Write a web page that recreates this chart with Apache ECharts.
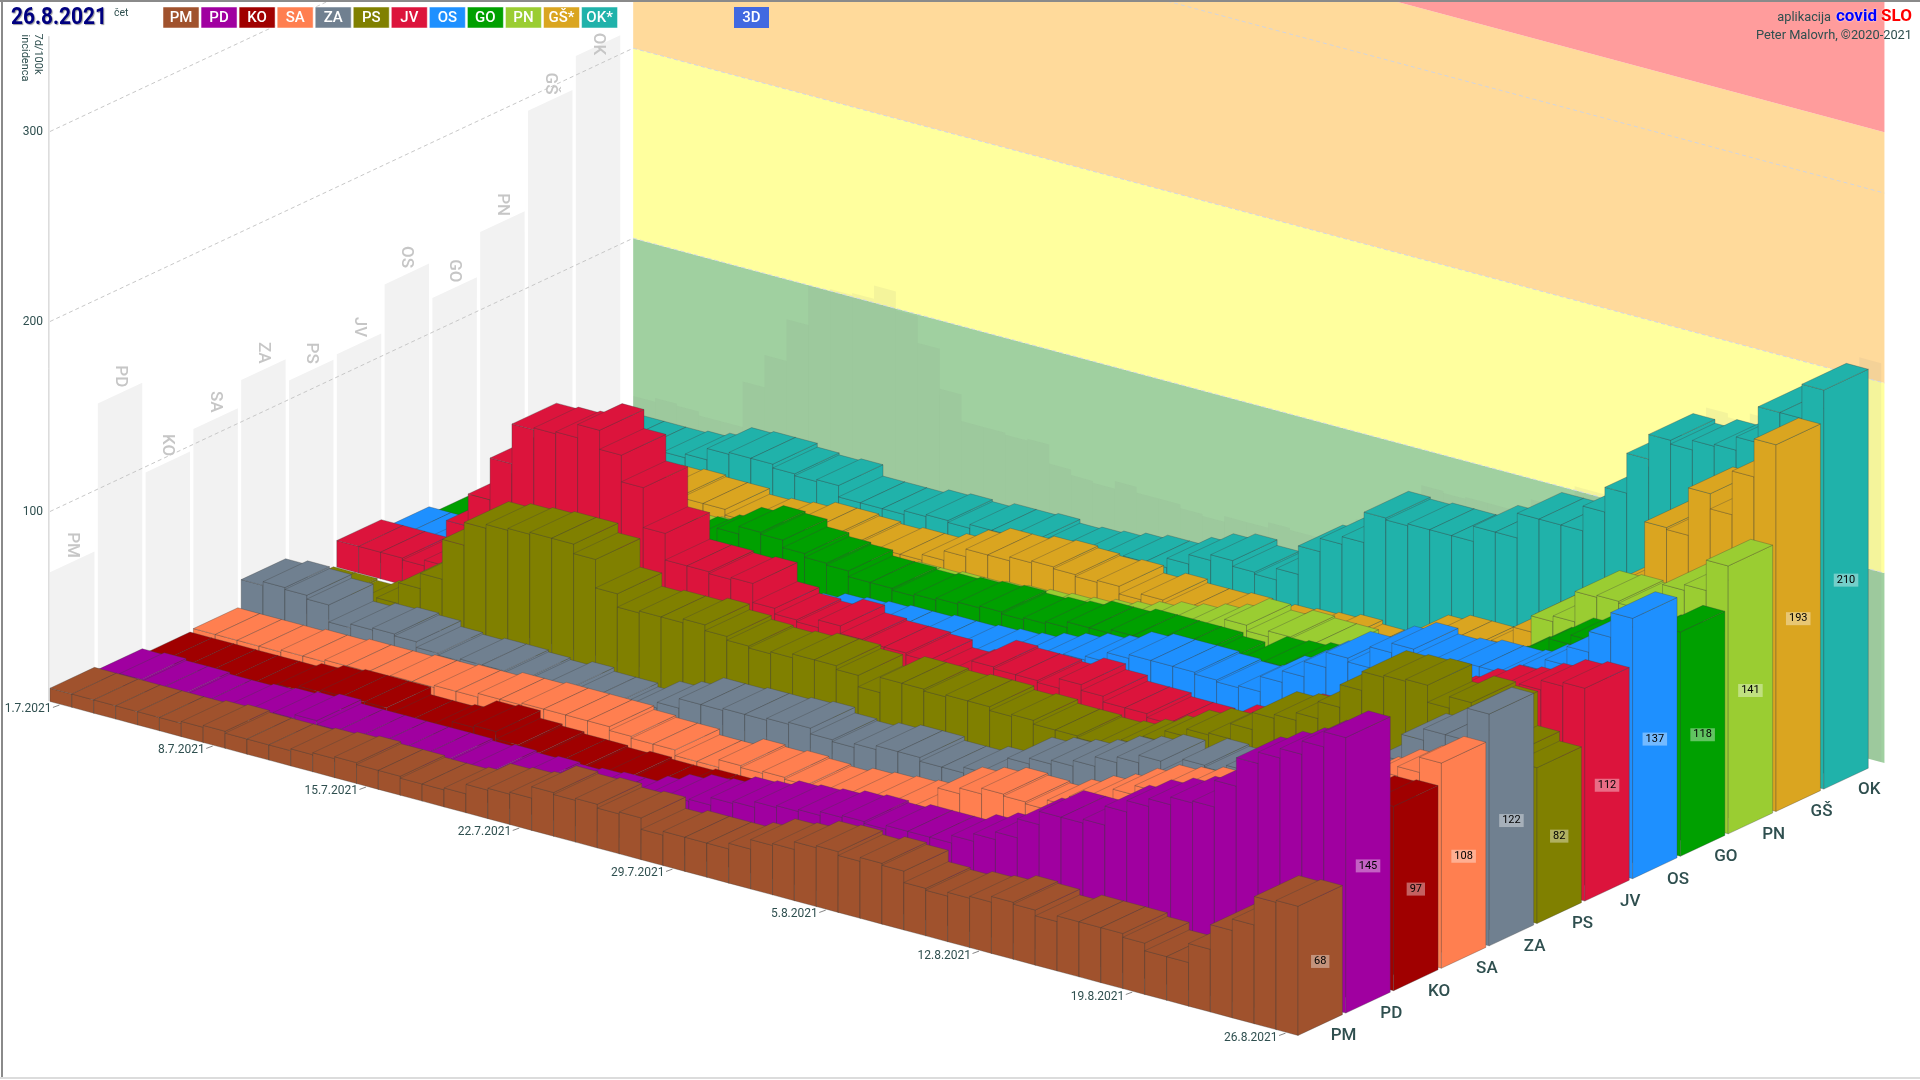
<!DOCTYPE html>
<html><head><meta charset="utf-8"><title>covidSLO</title>
<style>html,body{margin:0;padding:0;background:#fff}#c{width:1920px;height:1080px}</style>
<script src="https://cdn.jsdelivr.net/npm/echarts@6/dist/echarts.min.js"></script></head>
<body><div id="c"></div>
<script>
const regionNames=['PM','PD','KO','SA','ZA','PS','JV','OS','GO','PN','GŠ','OK'];
const regionColors=['#A0522D','#A000A0','#A00000','#FF7F50','#708090','#808000','#DC143C','#1E90FF','#00A000','#9ACD32','#DAA520','#20B2AA'];
const legendNames=['PM','PD','KO','SA','ZA','PS','JV','OS','GO','PN','GŠ*','OK*'];
const tickDays=[0,7,14,21,28,35,42,49,56];
const tickLabels=['1.7.2021','8.7.2021','15.7.2021','22.7.2021','29.7.2021','5.8.2021','12.8.2021','19.8.2021','26.8.2021'];
const zoneLimits=[0,100,200,332,420];
const zoneColors=['#A0D0A0','#FFFF9E','#FFDA9B','#FF9C9C'];
const PM=[7,7,7,7,7,7,8,9,8,8,8,9,10,11,10,10,9,9,10,15,16,17,23,22,23,21,22,16,18,18,18,21,26,27,31,32,30,32,31,25,24,26,27,30,29,26,29,29,29,27,23,23,33,46,52,67,68];
const PD=[5,6,5,5,4,4,5,6,7,9,7,7,7,7,7,7,6,7,6,7,6,7,8,8,12,16,19,20,24,25,28,29,30,32,33,32,34,34,34,38,42,46,56,63,63,65,75,81,85,89,90,104,119,125,130,137,145];
const KO=[2,2,2,2,2,2,4,6,7,7,7,3,3,4,9,10,6,5,4,4,3,4,3,3,4,4,5,5,6,6,7,8,8,9,10,10,11,12,13,14,15,16,18,20,22,24,27,30,34,40,46,55,65,75,85,96,97];
const SA=[3,3,3,3,4,4,5,5,5,6,6,7,7,9,9,10,10,10,10,8,7,7,4,4,8,7,8,7,6,8,9,10,11,12,24,27,30,29,28,33,38,42,48,53,55,58,60,63,66,70,74,78,82,88,95,100,108];
const ZA=[17,19,18,16,7,9,10,9,6,5,6,6,5,4,6,4,4,2,8,11,16,16,17,17,18,19,16,15,17,19,19,17,17,20,22,31,34,36,39,44,47,51,46,55,54,58,60,62,64,68,70,75,85,99,105,105,122];
const PS=[1,1,0,3,8,19,27,48,60,62,63,64,64,59,44,37,38,38,40,37,35,34,35,37,37,35,29,37,37,36,37,37,35,36,34,34,33,34,38,43,49,53,54,62,71,73,77,86,98,108,109,110,101,107,105,87,82];
const JV=[14,14,14,13,16,40,57,79,100,101,102,109,99,85,64,50,50,49,50,40,37,36,40,36,35,35,34,30,32,40,39,39,38,43,40,37,37,35,35,33,40,45,50,55,58,62,66,70,75,81,86,93,98,100,105,110,112];
const OS=[9,9,10,11,12,13,14,15,15,16,16,17,17,18,18,18,18,18,19,22,23,24,25,25,26,26,27,28,29,32,35,38,40,45,47,47,47,46,45,46,54,60,68,76,74,85,90,87,88,90,90,91,97,103,113,124,137];
const GO=[5,6,7,8,9,10,12,14,16,18,22,26,30,37,41,40,36,34,33,30,30,29,30,31,32,33,32,33,34,37,37,39,39,39,39,37,34,43,44,46,48,50,57,59,58,64,65,68,72,80,88,96,101,104,106,110,118];
const PN=[4,4,5,5,5,6,6,7,7,8,8,9,9,10,10,10,11,11,12,12,13,13,14,15,16,17,18,20,22,25,28,30,33,36,42,39,42,41,41,30,30,30,30,32,35,40,45,60,87,90,106,107,106,108,122,125,141];
const GS=[8,8,9,9,10,11,12,11,11,8,9,10,13,13,12,11,12,12,15,20,24,24,26,27,26,25,26,22,25,23,23,24,22,24,25,26,28,26,25,30,40,43,43,43,50,60,70,78,87,93,100,134,133,158,150,173,193];
const OK=[12,13,13,13,14,16,22,23,23,21,20,21,15,15,15,17,18,17,19,19,20,18,19,20,22,24,24,29,34,37,34,33,39,54,61,65,81,80,81,81,81,89,89,102,102,102,115,128,149,162,160,165,166,173,192,192,210];
const regionValues=[PM,PD,KO,SA,ZA,PS,JV,OS,GO,PN,GS,OK];

const SLOPE=0.2676, RX=47.8, RY=22.4, DEPTH=0.93, WALL_R=12.2, WALL_D=57.15;
const TXT='#2F4F4F', FONT='"Roboto"', NARROW='"Roboto"';
const regionMax=regionValues.map(a=>Math.max.apply(null,a));
const dailyMax=PM.map((_,d)=>Math.max.apply(null,regionValues.map(a=>a[d])));

function projector(api){
  const o=api.coord([0,0]);
  return (d,r,v)=>{const p=api.coord([d,v]);return [p[0]+r*RX,p[1]+(p[0]-o[0])*SLOPE-r*RY];};
}
function poly(points,fill,stroke,lw){
  return {type:'polygon',shape:{points},style:{fill,stroke:stroke||null,lineWidth:lw||0},silent:true};
}
function line(a,b,stroke,dash,lw){
  return {type:'line',shape:{x1:a[0],y1:a[1],x2:b[0],y2:b[1]},style:{stroke,lineWidth:lw||1,lineDash:dash||null},silent:true};
}
function text(x,y,t,o){
  const e={type:'text',x,y,rotation:o.rotation||0,silent:true,style:{text:t,fill:o.fill||TXT,font:o.font,align:o.align||'center',verticalAlign:'middle'}};
  if(o.bg){e.style.backgroundColor=o.bg;e.style.padding=o.padding;}
  return e;
}
const base={type:'custom',coordinateSystem:'cartesian2d',xAxisIndex:0,yAxisIndex:0,clip:false,silent:true,animation:false,encode:{x:0,y:1}};

const series=[];
series.push(Object.assign({},base,{name:'zones',z:1,
  data:zoneColors.map((c,i)=>[0,zoneLimits[i],zoneLimits[i+1]]),
  renderItem(params,api){
    const P=projector(api),lo=api.value(1),hi=api.value(2);
    return poly([P(0,WALL_R,lo),P(WALL_D,WALL_R,lo),P(WALL_D,WALL_R,hi),P(0,WALL_R,hi)],zoneColors[params.dataIndex]);
  }}));
series.push(Object.assign({},base,{name:'dailyMax',z:2,
  data:dailyMax.map((v,d)=>[d,v]),
  renderItem(params,api){
    const P=projector(api),d=api.value(0),v=api.value(1);
    return poly([P(d,WALL_R,0),P(d+1,WALL_R,0),P(d+1,WALL_R,v),P(d,WALL_R,v)],'rgba(128,128,128,0.085)');
  }}));
series.push(Object.assign({},base,{name:'wallGrid',z:3,
  data:[[0,100],[0,200],[0,300]],
  renderItem(params,api){
    const P=projector(api),v=api.value(1);
    return {type:'group',children:[
      line(P(0,0,v),P(0,WALL_R,v),'#c8c8c8',[4,3]),
      line(P(0,WALL_R,v),P(WALL_D,WALL_R,v),'rgba(205,212,228,0.9)',[4,3])
    ]};
  }}));
series.push(Object.assign({},base,{name:'regionMax',z:2,
  data:regionMax.map((v,r)=>[r,v]),
  renderItem(params,api){
    const P=projector(api),r=api.value(0),v=api.value(1),top=P(0,r+0.46,v);
    return {type:'group',children:[
      poly([P(0,r,0),P(0,r+DEPTH,0),P(0,r+DEPTH,v),P(0,r,v)],'#F2F2F2'),
      text(top[0],Math.max(top[1]-17,44),regionNames[r],{font:'500 17px '+FONT,fill:'#C6C6C6',rotation:-Math.PI/2})
    ]};
  }}));
series.push(Object.assign({},base,{name:'axisLine',z:3,data:[[0,0,350]],
  renderItem(params,api){const P=projector(api);return line(P(-0.05,0,api.value(1)),P(-0.05,0,api.value(2)),'#C8C8C8');}}));
for(let r=regionNames.length-1;r>=0;r--){
  const vals=regionValues[r];
  series.push(Object.assign({},base,{name:regionNames[r],z:4,
    data:vals.map((v,d)=>[d,v]),
    renderItem(params,api){
      const P=projector(api),d=api.value(0),v=api.value(1),c=regionColors[r];
      const s='rgba(60,60,60,0.48)',w=0.65,r2=r+DEPTH;
      const kids=[
        poly([P(d,r,0),P(d+1,r,0),P(d+1,r,v),P(d,r,v)],c,s,w),
        poly([P(d+1,r,0),P(d+1,r2,0),P(d+1,r2,v),P(d+1,r,v)],c,s,w),
        poly([P(d,r,v),P(d+1,r,v),P(d+1,r2,v),P(d,r2,v)],c,s,w)
      ];
      if(d===vals.length-1){
        const m=P(d+1,r+DEPTH/2,v/2);
        kids.push(text(m[0],m[1]+1,String(v),{font:'11px '+FONT,fill:'#000',bg:'rgba(255,255,255,0.38)',padding:[1,3]}));
      }
      return {type:'group',children:kids};
    }}));
}
series.push(Object.assign({},base,{name:'dates',z:5,
  data:tickDays.map((d,i)=>[d,0,i]),
  renderItem(params,api){
    const P=projector(api),d=api.value(0),b=P(d+0.5,0,0);
    return {type:'group',children:[
      line([b[0]-8,b[1]+3],[b[0]-1.5,b[1]+0.6],'#666',null,0.8),
      text(b[0]-9.5,b[1]+5,tickLabels[api.value(2)],{font:'12px '+NARROW,align:'right'})
    ]};
  }}));
series.push(Object.assign({},base,{name:'regions',z:5,
  data:regionNames.map((n,r)=>[57,0,r]),
  renderItem(params,api){
    const P=projector(api),r=api.value(2),b=P(57,r+0.46,0);
    return text(b[0]+23.5,b[1]+11,regionNames[r],{font:'500 17px '+FONT});
  }}));

const graphic=[
  {type:'rect',shape:{x:0,y:0,width:1920,height:2},style:{fill:'#8a8a8a'},z:50,silent:true},
  {type:'rect',shape:{x:1,y:0,width:2,height:1078},style:{fill:'#8a8a8a'},z:50,silent:true},
  {type:'rect',shape:{x:0,y:1077,width:1920,height:2},style:{fill:'#dcdcdc'},z:50,silent:true},
  {type:'text',x:11,y:6,scaleX:0.87,z:50,silent:true,style:{text:'26.8.2021',font:'bold 24px '+NARROW,fill:'#000080',textShadowColor:'#999',textShadowBlur:1,textShadowOffsetX:1,textShadowOffsetY:1}},
  {type:'text',x:114,y:8,z:50,silent:true,style:{text:'čet',font:'10.5px '+FONT,fill:TXT}},
  {type:'text',x:38,y:54,rotation:-Math.PI/2,z:50,silent:true,style:{text:'7d/100k',font:'11px '+FONT,fill:TXT,align:'center',verticalAlign:'middle'}},
  {type:'text',x:25,y:58,rotation:-Math.PI/2,z:50,silent:true,style:{text:'incidenca',font:'11px '+FONT,fill:TXT,align:'center',verticalAlign:'middle'}},
  {type:'text',x:1831,y:18,z:50,silent:true,style:{text:'aplikacija',font:'12.8px '+FONT,fill:TXT,align:'right',verticalAlign:'middle'}},
  {type:'text',x:1836,y:17,z:50,silent:true,style:{text:'covid',font:'bold 17px '+FONT,fill:'#0000FF',verticalAlign:'middle',textShadowColor:'#fff',textShadowBlur:2}},
  {type:'text',x:1881,y:17,z:50,silent:true,style:{text:'SLO',font:'bold 17px '+FONT,fill:'#FF0000',verticalAlign:'middle',textShadowColor:'#fff',textShadowBlur:2}},
  {type:'text',x:1912,y:36,z:50,silent:true,style:{text:'Peter Malovrh, ©2020-2021',font:'12.8px '+FONT,fill:TXT,align:'right',verticalAlign:'middle'}}
];
legendNames.forEach((n,i)=>{
  const x=163+i*38.05;
  graphic.push({type:'rect',z:50,silent:true,shape:{x,y:7,width:36,height:21},style:{fill:regionColors[i],stroke:'rgba(255,255,255,0.5)',lineWidth:1}});
  graphic.push({type:'text',z:51,silent:true,x:x+18,y:18,style:{text:n,font:'500 15px '+NARROW,fill:'#fff',align:'center',verticalAlign:'middle'}});
});
graphic.push({type:'rect',z:50,silent:true,shape:{x:734,y:7,width:35,height:21},style:{fill:'#4169E1'}});
graphic.push({type:'text',z:51,silent:true,x:751.5,y:18,style:{text:'3D',font:'500 15px '+FONT,fill:'#fff',align:'center',verticalAlign:'middle'}});

const chart=echarts.init(document.getElementById('c'),null,{renderer:'canvas',width:1920,height:1080});
chart.setOption({
  animation:false,backgroundColor:'#fff',
  grid:{left:50,width:1248,top:-58.5,height:760,containLabel:false,outerBoundsMode:'none'},
  xAxis:{type:'value',min:0,max:57,show:false},
  yAxis:{type:'value',min:0,max:400,interval:100,position:'left',
    axisLine:{show:false},axisTick:{show:false},splitLine:{show:false},
    axisLabel:{margin:7,color:TXT,fontFamily:'Roboto',fontSize:12,formatter:v=>(v===0||v===400)?'':String(v)}},
  graphic,series
});
</script></body></html>
